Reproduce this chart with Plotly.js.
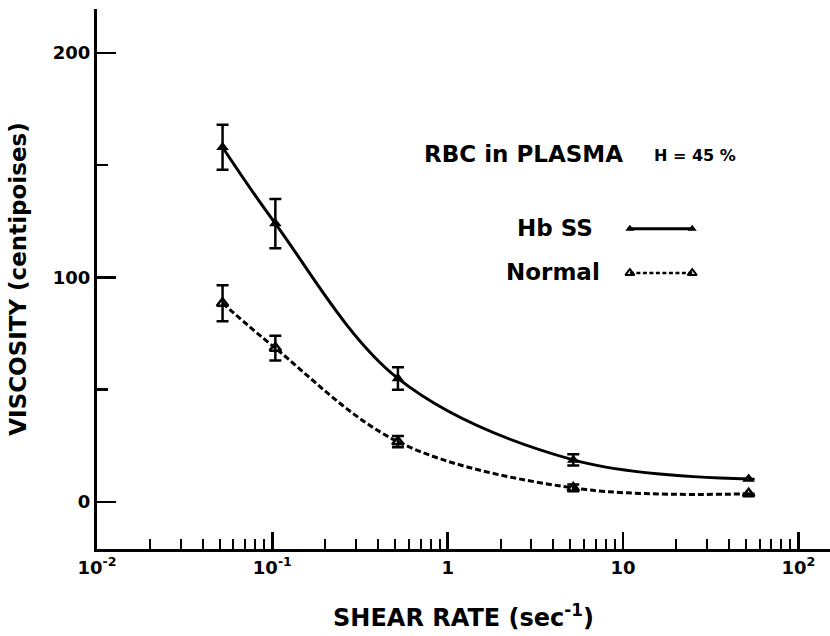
<!DOCTYPE html>
<html>
<head>
<meta charset="utf-8">
<script src="https://cdn.plot.ly/plotly-3.0.1.min.js"></script>
<style>
  html, body { margin: 0; padding: 0; background: #fff; }
  #chart { width: 830px; height: 636px; }
</style>
</head>
<body>
<div id="chart"></div>
<script>
// ---- data ----
const shearRate = [0.052, 0.104, 0.52, 5.2, 52];          // sec^-1
const hbssViscosity = [158, 124, 55, 18.7, 10.2];          // centipoises
const hbssError = [10, 11, 5, 2.5, 0];
const normalViscosity = [88.5, 68.5, 26.8, 6.2, 3.6];
const normalError = [8, 5.5, 2.5, 1.5, 0];

const xTickVals = [0.01, 0.1, 1, 10, 100];
const xTickText = ["10<sup>-2</sup>", "10<sup>-1</sup>", "1", "10", "10<sup>2</sup>"];
const yTickVals = [0, 100, 200];
const yTickText = ["0", "100", "200"];

const FONT = "DejaVu Sans, Liberation Sans, sans-serif";

const hbss = {
  x: shearRate, y: hbssViscosity, type: "scatter", mode: "lines+markers",
  name: "Hb SS",
  line: { color: "#000", width: 3, shape: "spline", smoothing: 1 },
  marker: { symbol: "triangle-up", size: 11, color: "#000", line: { color: "#000", width: 0 } },
  error_y: { type: "data", array: hbssError, visible: true, color: "#000", thickness: 2.5, width: 6 },
  showlegend: false, cliponaxis: false
};
const normal = {
  x: shearRate, y: normalViscosity, type: "scatter", mode: "lines+markers",
  name: "Normal",
  line: { color: "#000", width: 3, dash: "6px,3px", shape: "spline", smoothing: 1 },
  marker: { symbol: "triangle-up-open", size: 10, color: "#000", line: { color: "#000", width: 2.5 } },
  error_y: { type: "data", array: normalError, visible: true, color: "#000", thickness: 2.5, width: 6 },
  showlegend: false, cliponaxis: false
};
// legend samples (drawn on an invisible overlay axis in plot-fraction units)
const keyHbss = {
  x: [0.727, 0.812], y: [0.593, 0.593], xaxis: "x2", yaxis: "y2",
  type: "scatter", mode: "lines+markers", showlegend: false, hoverinfo: "skip",
  line: { color: "#000", width: 3 },
  marker: { symbol: "triangle-up", size: 8, color: "#000" }
};
const keyNormal = {
  x: [0.727, 0.812], y: [0.511, 0.511], xaxis: "x2", yaxis: "y2",
  type: "scatter", mode: "lines+markers", showlegend: false, hoverinfo: "skip",
  line: { color: "#000", width: 2.5, dash: "4px,2.5px" },
  marker: { symbol: "triangle-up-open", size: 8, color: "#000", line: { width: 2, color: "#000" } }
};

const layout = {
  width: 830, height: 636,
  margin: { l: 97, r: 0, t: 9, b: 87 },
  paper_bgcolor: "#fff", plot_bgcolor: "#fff",
  font: { family: FONT, color: "#000" },
  xaxis: {
    type: "log", range: [-2, 2.18],
    tickmode: "array", tickvals: xTickVals, ticktext: xTickText,
    ticks: "inside", ticklen: 17, tickwidth: 2.5, tickcolor: "#000",
    minor: { dtick: "D1", ticks: "inside", ticklen: 10, tickwidth: 2, tickcolor: "#000", showgrid: false },
    showline: true, linewidth: 3, linecolor: "#000",
    showgrid: false, zeroline: false,
    tickfont: { family: FONT, size: 18, color: "#000", weight: "bold" },
    title: { text: "SHEAR RATE (sec<sup>-1</sup>)", font: { family: FONT, size: 24, color: "#000", weight: "bold" }, standoff: 33 },
    fixedrange: true
  },
  yaxis: {
    range: [-21, 219.6],
    tickmode: "array", tickvals: yTickVals, ticktext: yTickText,
    ticks: "inside", ticklen: 19, tickwidth: 2.5, tickcolor: "#000",
    minor: { tickmode: "array", tickvals: [50, 150], ticks: "inside", ticklen: 11, tickwidth: 2.5, tickcolor: "#000", showgrid: false },
    showline: true, linewidth: 3, linecolor: "#000",
    showgrid: false, zeroline: false,
    tickfont: { family: FONT, size: 18, color: "#000", weight: "bold" },
    title: { text: "VISCOSITY (centipoises)", font: { family: FONT, size: 23, color: "#000", weight: "bold" }, standoff: 20 },
    fixedrange: true
  },
  xaxis2: { overlaying: "x", range: [0, 1], visible: false, fixedrange: true },
  yaxis2: { overlaying: "y", range: [0, 1], visible: false, fixedrange: true },
  annotations: [
    { text: "RBC in PLASMA", xref: "paper", yref: "paper", x: 0.443, y: 0.731, xanchor: "left", yanchor: "middle", showarrow: false,
      font: { family: FONT, size: 23, color: "#000", weight: "bold" } },
    { text: "H = 45 %", xref: "paper", yref: "paper", x: 0.757, y: 0.729, xanchor: "left", yanchor: "middle", showarrow: false,
      font: { family: FONT, size: 16, color: "#000", weight: "bold" } },
    { text: "Hb SS", xref: "paper", yref: "paper", x: 0.679, y: 0.594, xanchor: "right", yanchor: "middle", showarrow: false,
      font: { family: FONT, size: 23, color: "#000", weight: "bold" } },
    { text: "Normal", xref: "paper", yref: "paper", x: 0.689, y: 0.513, xanchor: "right", yanchor: "middle", showarrow: false,
      font: { family: FONT, size: 23, color: "#000", weight: "bold" } }
  ]
};

Plotly.newPlot("chart", [hbss, normal, keyHbss, keyNormal], layout, { displayModeBar: false, staticPlot: true });
</script>
</body>
</html>
